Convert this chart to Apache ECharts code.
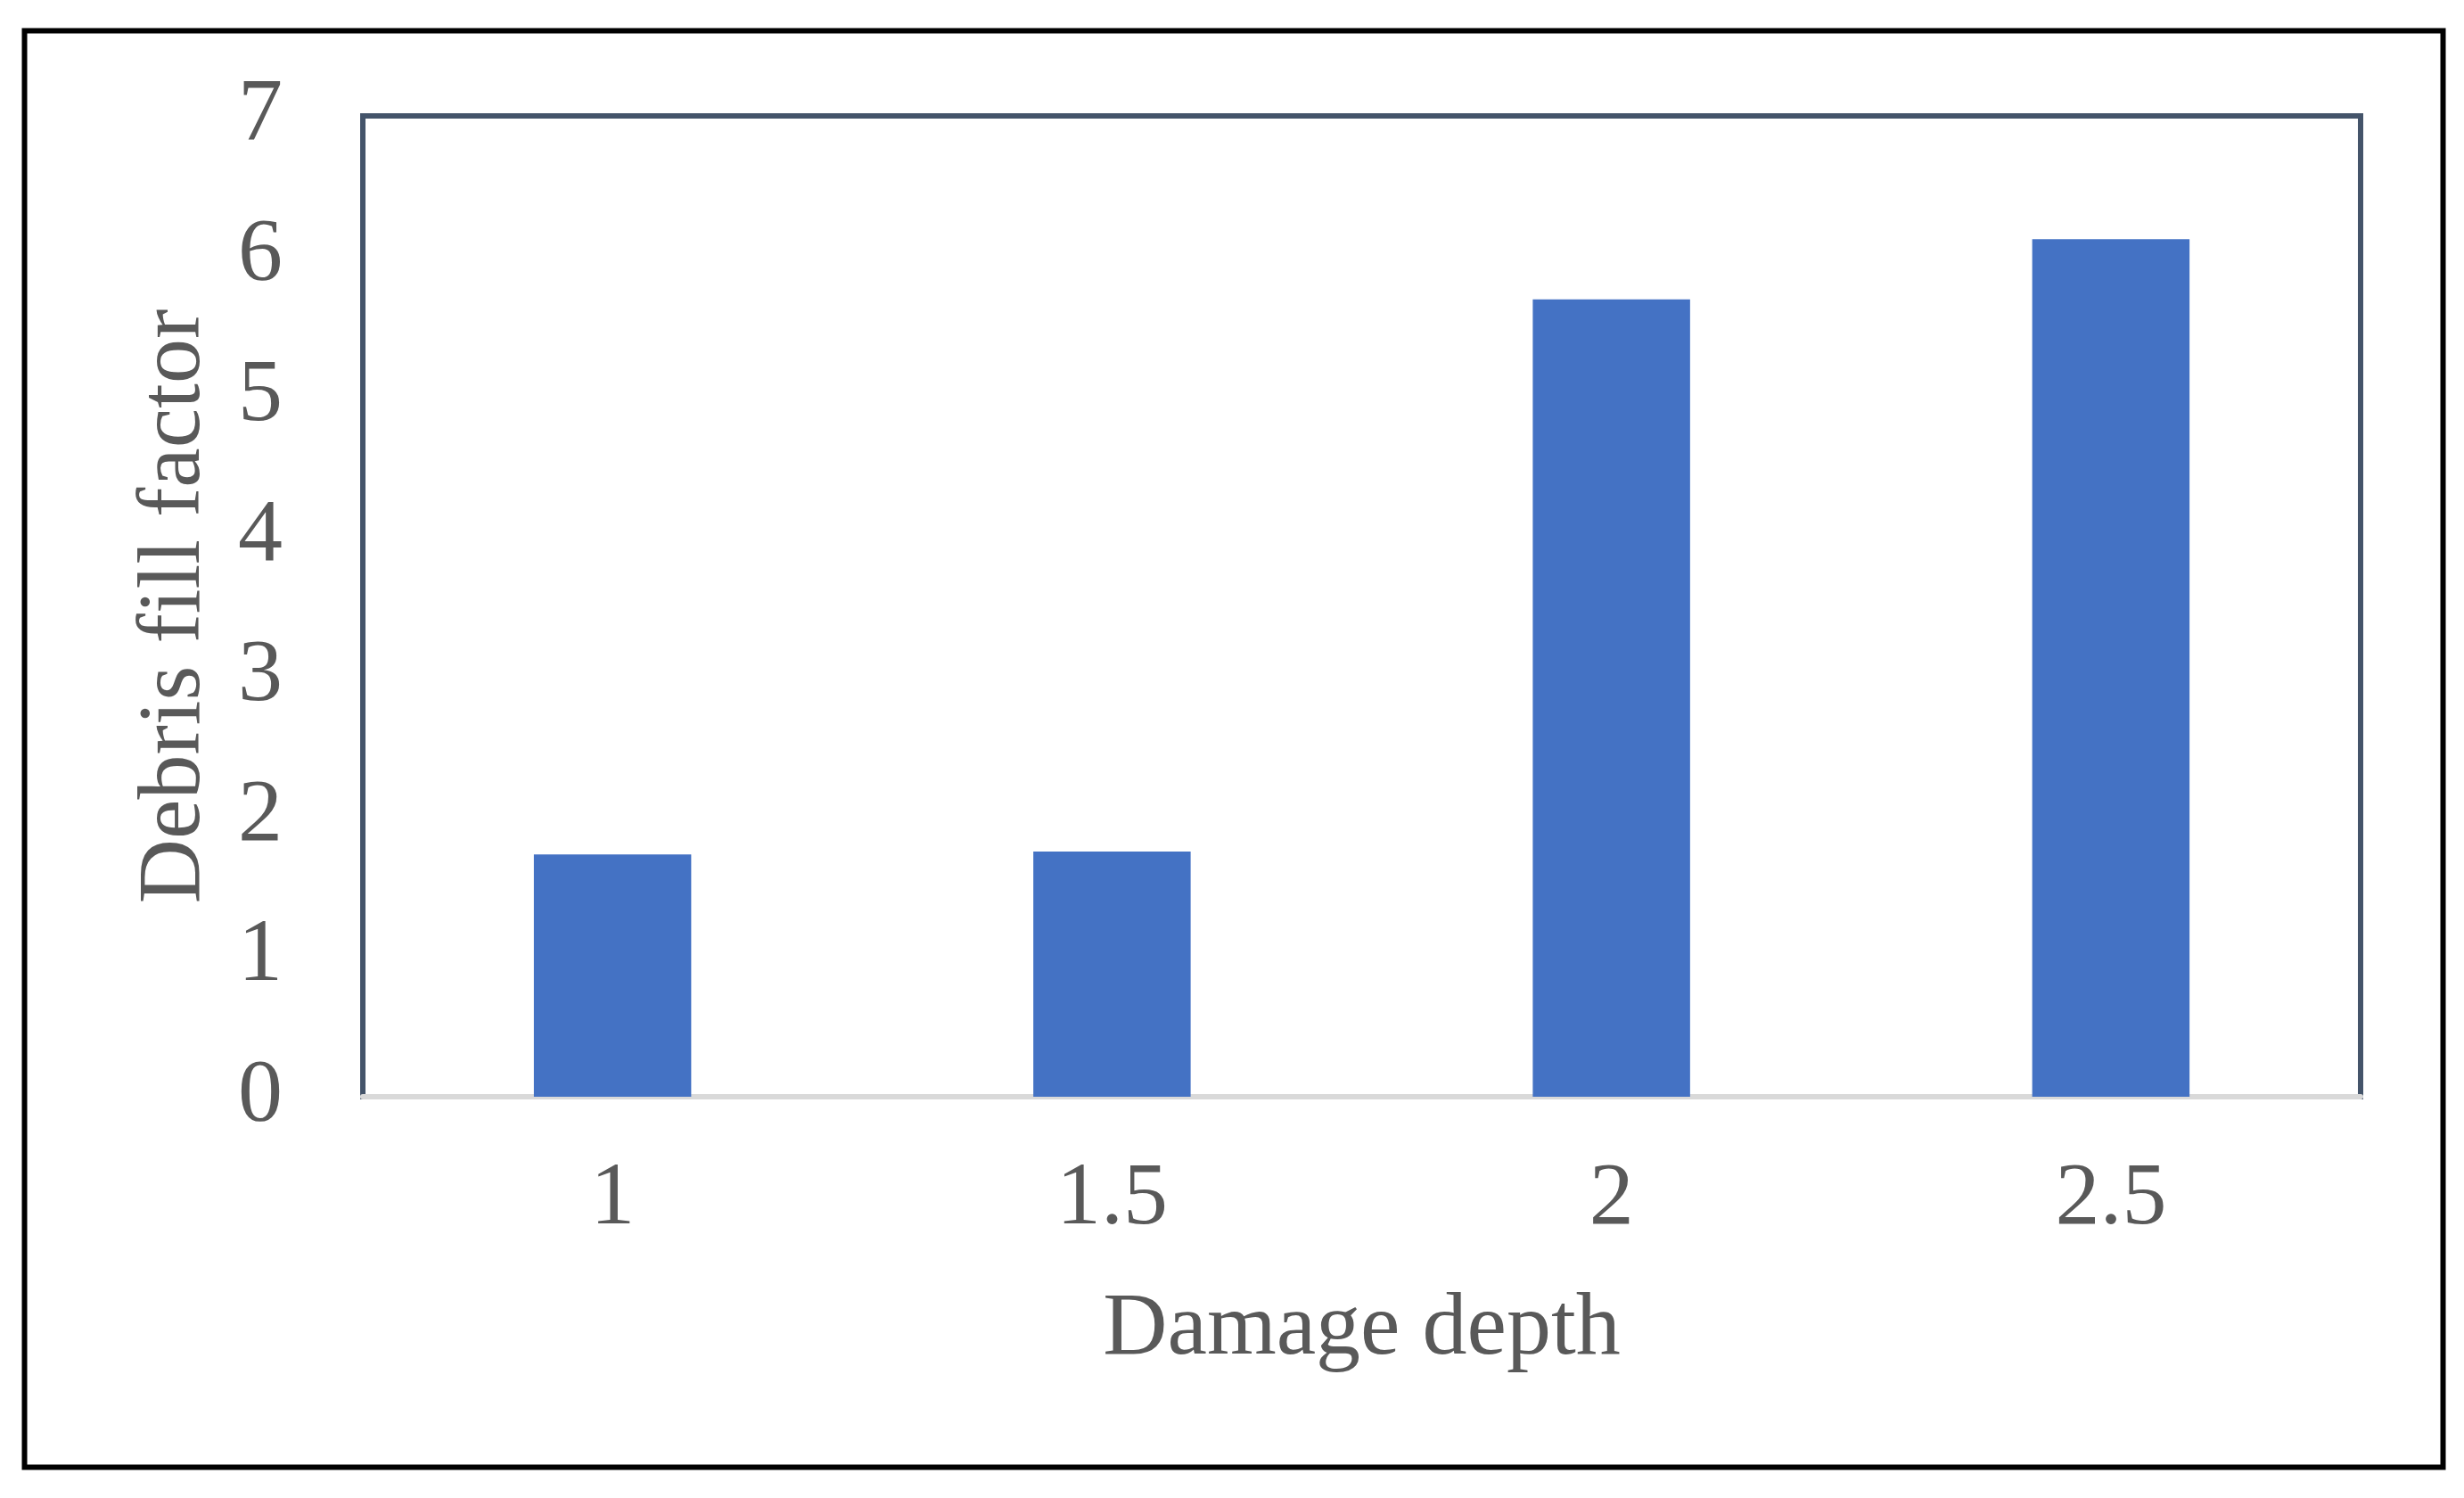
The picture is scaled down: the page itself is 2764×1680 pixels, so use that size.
<!DOCTYPE html>
<html>
<head>
<meta charset="utf-8">
<script src="https://cdn.jsdelivr.net/npm/echarts@6/dist/echarts.min.js"></script>
<style>
html,body{margin:0;padding:0;background:#fff;}
#chart{width:2764px;height:1680px;}
</style>
</head>
<body>
<div id="chart"></div>
<script>
const categories = ['1', '1.5', '2', '2.5'];
const debrisFill = [1.73, 1.75, 5.69, 6.12];
const yTicks = [0, 1, 2, 3, 4, 5, 6, 7];
const xTitle = 'Damage depth';
const yTitle = 'Debris fill factor';

const font = '"Liberation Serif", "Times New Roman", serif';
const textColor = '#595959';

const chart = echarts.init(document.getElementById('chart'));
chart.setOption({
  animation: false,
  backgroundColor: '#ffffff',
  graphic: [{
    type: 'rect',
    shape: { x: 27.5, y: 34.5, width: 2713, height: 1611 },
    style: { fill: 'none', stroke: '#000000', lineWidth: 6 },
    z: 10
  }],
  grid: {
    left: 407, right: 116, top: 130, bottom: 450,
    show: true, borderColor: '#44546A', borderWidth: 6, backgroundColor: 'transparent'
  },
  xAxis: {
    type: 'category',
    data: categories,
    name: xTitle,
    nameLocation: 'middle',
    nameGap: 212,
    nameTextStyle: { fontFamily: font, fontSize: 100, color: textColor },
    axisLine: { show: true, lineStyle: { color: '#D9D9D9', width: 6 } },
    axisTick: { show: false },
    axisLabel: { fontFamily: font, fontSize: 100, color: textColor, margin: 66 },
    splitLine: { show: false }
  },
  yAxis: {
    type: 'value',
    min: yTicks[0],
    max: yTicks[yTicks.length - 1],
    interval: 1,
    name: yTitle,
    nameLocation: 'middle',
    nameGap: 160,
    nameTextStyle: { fontFamily: font, fontSize: 100, color: textColor },
    axisLine: { show: false },
    axisTick: { show: false },
    axisLabel: { fontFamily: font, fontSize: 100, color: textColor, margin: 90 },
    splitLine: { show: false }
  },
  series: [{
    type: 'bar',
    data: debrisFill,
    barWidth: '31.5%',
    itemStyle: { color: '#4472C4' }
  }]
});
</script>
</body>
</html>
